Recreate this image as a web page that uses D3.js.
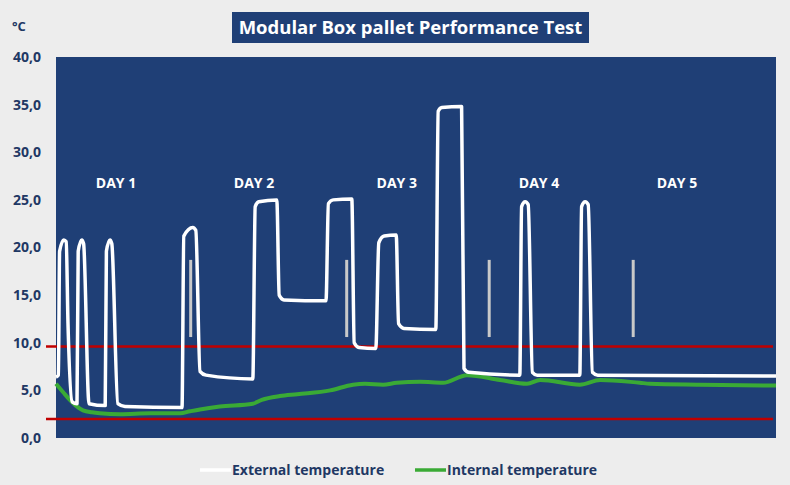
<!DOCTYPE html>
<html lang="en">
<head>
    <meta charset="UTF-8">
    <title>Modular Box pallet Performance Test</title>
    <script src="https://cdn.jsdelivr.net/npm/d3@7"></script>
    <style>
        body { margin: 0px; background: #ededed; }
        text { font-family: "Open Sans", "Noto Sans", sans-serif; font-weight: bold; }
    </style>
</head>
<body>
    <svg id="chart" width="790" height="485"></svg>
    <script>
        // external temperature (hours, °C)
        const extTime = [0, 0.4, 0.6, 1.3, 1.7, 2.0, 2.7, 3.5, 3.7, 4.3, 4.6, 5.5, 8.2, 8.4, 9.0, 9.3, 10.3, 11.5, 21.0, 21.3, 22.8, 23.3, 24.0, 25.0, 32.8, 33.2, 33.8, 36.8, 37.2, 38.0, 45.0, 45.4, 46.2, 49.3, 49.7, 50.5, 53.3, 53.8, 54.7, 56.7, 57.1, 58.0, 63.3, 63.7, 64.3, 67.6, 68.0, 68.8, 77.3, 77.6, 78.2, 78.7, 79.4, 80.2, 87.3, 87.6, 88.2, 88.7, 89.4, 90.3, 120];
        const extTemp = [6.4, 6.6, 19.6, 20.8, 20.6, 12.0, 3.8, 3.6, 19.6, 20.8, 20.4, 3.6, 3.4, 19.6, 20.8, 20.4, 3.6, 3.3, 3.2, 21.2, 22.1, 21.8, 7.0, 6.6, 6.2, 24.3, 24.8, 25.0, 15.0, 14.5, 14.4, 24.6, 25.0, 25.1, 10.0, 9.5, 9.4, 20.5, 21.2, 21.3, 12.0, 11.5, 11.4, 34.3, 34.7, 34.8, 7.3, 6.9, 6.6, 24.3, 24.8, 24.5, 6.9, 6.6, 6.6, 24.3, 24.8, 24.5, 6.9, 6.6, 6.5];
        // internal temperature (hours, °C)
        const intTime = [0, 1.2, 2.3, 3.3, 4.5, 6.0, 7.3, 10.7, 15.7, 20.7, 22.3, 24.0, 27.3, 32.8, 34.3, 37.3, 40.2, 45.7, 49.5, 51.5, 54.5, 56.8, 60.7, 64.5, 68.5, 74.0, 78.5, 80.7, 87.3, 90.7, 97.3, 99.0, 107.3, 120];
        const intTemp = [5.7, 4.8, 4.0, 3.4, 2.9, 2.7, 2.6, 2.5, 2.6, 2.6, 2.8, 3.0, 3.3, 3.6, 4.0, 4.4, 4.6, 5.0, 5.6, 5.7, 5.6, 5.8, 5.9, 5.8, 6.6, 6.1, 5.7, 6.1, 5.6, 6.1, 5.8, 5.7, 5.6, 5.5];

        const limits = [2.0, 9.6];
        const markerTime = [22.45, 48.45, 72.2, 96.2];
        const markerRange = [10.6, 18.7];
        const dayNames = ['DAY 1', 'DAY 2', 'DAY 3', 'DAY 4', 'DAY 5'];
        const dayTime = [10, 33, 56.8, 80.5, 103.5];
        const dayLevel = 26.8;
        const yTicks = [0, 5, 10, 15, 20, 25, 30, 35, 40];

        const plot = { left: 56, right: 776, top: 57, bottom: 438 };
        const svg = d3.select('#chart');
        const navy = '#1f3f76';
        const labelColor = '#1f3864';

        const xScale = d3.scaleLinear([0, 120], [plot.left, plot.right]);
        const yScale = d3.scaleLinear([0, 40], [plot.bottom, plot.top]);

        // plot area
        svg.append('rect')
            .attr('x', plot.left)
            .attr('y', plot.top)
            .attr('width', plot.right - plot.left)
            .attr('height', plot.bottom - plot.top)
            .attr('fill', navy);

        // y axis labels
        const yAxis = d3.axisLeft(yScale)
            .tickValues(yTicks)
            .tickFormat(d => d3.format('.1f')(d).replace('.', ','))
            .tickSize(0)
            .tickPadding(15);
        svg.append('g')
            .attr('transform', `translate(${plot.left}, 0)`)
            .call(yAxis)
            .call(g => g.select('.domain').remove())
            .selectAll('text')
            .attr('fill', labelColor)
            .attr('font-size', 14)
            .style('font-family', '"Open Sans", sans-serif')
            .style('font-weight', 'bold');

        svg.append('text')
            .attr('x', 12)
            .attr('y', 31)
            .attr('fill', labelColor)
            .attr('font-size', 13)
            .text('°C');

        // day separators
        svg.append('g')
            .selectAll('line')
            .data(markerTime)
            .enter()
            .append('line')
            .attr('x1', d => xScale(d))
            .attr('x2', d => xScale(d))
            .attr('y1', yScale(markerRange[0]))
            .attr('y2', yScale(markerRange[1]))
            .attr('stroke', '#c9c9c9')
            .attr('stroke-width', 3);

        // day labels
        svg.append('g')
            .selectAll('text')
            .data(dayNames)
            .enter()
            .append('text')
            .attr('x', (d, i) => xScale(dayTime[i]))
            .attr('y', yScale(dayLevel) + 5)
            .attr('text-anchor', 'middle')
            .attr('fill', 'white')
            .attr('font-size', 14)
            .text(d => d);

        // limit lines
        svg.append('g')
            .selectAll('line')
            .data(limits)
            .enter()
            .append('line')
            .attr('x1', plot.left - 10)
            .attr('x2', plot.right - 3)
            .attr('y1', d => yScale(d))
            .attr('y2', d => yScale(d))
            .attr('stroke', '#c00000')
            .attr('stroke-width', 2.5);

        const extLine = d3.line()
            .x((d, i) => xScale(extTime[i]))
            .y(d => yScale(d))
            .curve(d3.curveMonotoneX);
        const intLine = d3.line()
            .x((d, i) => xScale(intTime[i]))
            .y(d => yScale(d))
            .curve(d3.curveMonotoneX);

        svg.append('path')
            .attr('d', intLine(intTemp))
            .attr('fill', 'none')
            .attr('stroke', '#3aaa35')
            .attr('stroke-width', 4);

        svg.append('path')
            .attr('d', extLine(extTemp))
            .attr('fill', 'none')
            .attr('stroke', 'white')
            .attr('stroke-width', 3.5)
            .attr('stroke-linejoin', 'round');

        // title
        svg.append('rect')
            .attr('x', 232)
            .attr('y', 12)
            .attr('width', 357)
            .attr('height', 31)
            .attr('fill', navy);
        svg.append('text')
            .attr('x', 410.5)
            .attr('y', 34)
            .attr('text-anchor', 'middle')
            .attr('fill', 'white')
            .attr('font-size', 18.5)
            .text('Modular Box pallet Performance Test');

        // legend
        const legend = [
            { name: 'External temperature', color: 'white', x: 200 },
            { name: 'Internal temperature', color: '#3aaa35', x: 415 }
        ];
        const lg = svg.append('g')
            .selectAll('g')
            .data(legend)
            .enter()
            .append('g')
            .attr('transform', d => `translate(${d.x}, 470)`);
        lg.append('line')
            .attr('x1', 0)
            .attr('x2', 31)
            .attr('stroke', d => d.color)
            .attr('stroke-width', 3.5);
        lg.append('text')
            .attr('x', 32)
            .attr('y', 5)
            .attr('fill', labelColor)
            .attr('font-size', 14)
            .text(d => d.name);
    </script>
</body>
</html>
